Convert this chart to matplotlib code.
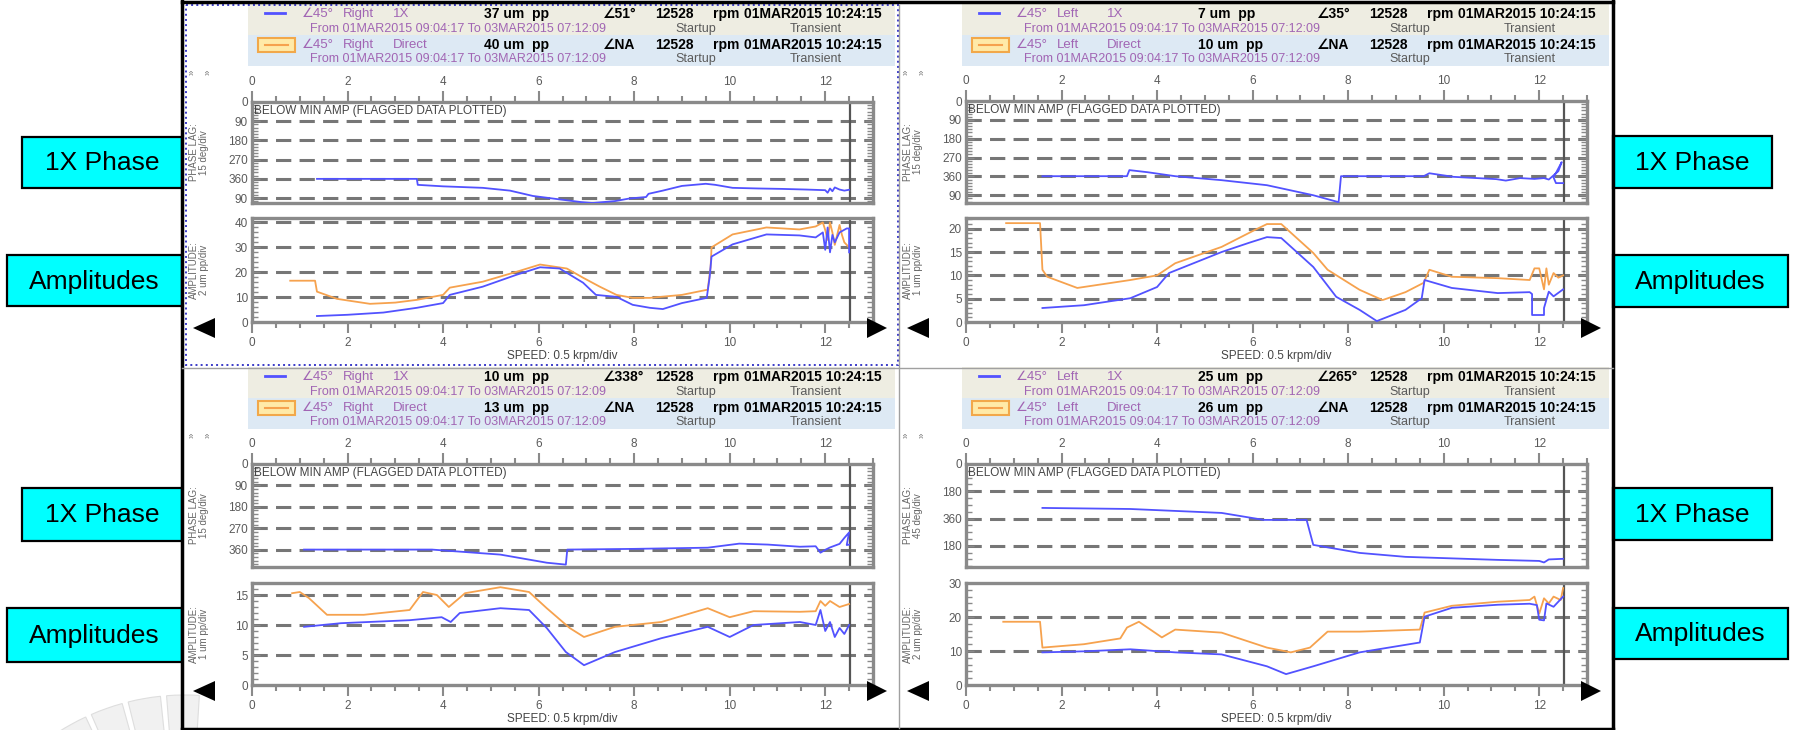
import matplotlib
matplotlib.use("Agg")
import matplotlib.pyplot as plt
from matplotlib.patches import Rectangle, Polygon, Wedge
from matplotlib.ticker import MultipleLocator

plt.rcParams['font.family'] = ['Liberation Sans', 'DejaVu Sans']

W, H = 1795, 730

# ---- data (speed in krpm) ----
# top left: Right probe
tl_ph_rpm = [1.36, 3.45, 3.47, 4.0, 4.83, 5.4, 5.88, 6.4, 6.9, 7.13, 7.6, 7.9, 8.25, 8.3,
             8.6, 9.0, 9.5, 9.7, 10.06, 10.6, 11.1, 11.6, 12.0, 12.05, 12.1, 12.15, 12.2,
             12.3, 12.4, 12.5]
tl_ph_deg = [360, 360, 388, 395, 402, 415, 440, 455, 469, 473, 464, 452, 445, 430,
             415, 393, 383, 388, 402, 405, 407, 410, 413, 425, 405, 418, 400,
             410, 415, 411]
tl_dir_rpm = [0.8, 1.32, 1.36, 1.78, 2.47, 3.0, 3.45, 4.0, 4.14, 4.83, 5.54, 6.03, 6.59,
              6.93, 7.28, 7.63, 7.97, 8.33, 9.0, 9.54, 9.6, 9.62, 10.06, 10.77, 11.46,
              11.8, 11.95, 12.0, 12.05, 12.1, 12.15, 12.2, 12.3, 12.35, 12.4, 12.5]
tl_dir_amp = [16.6, 16.6, 12.2, 9.3, 7.3, 7.8, 8.9, 10.9, 13.8, 16.2, 20.2, 23.1, 21.5,
              17.8, 14.2, 10.9, 9.7, 9.7, 10.9, 13.0, 22.0, 30.0, 35.2, 38.0, 37.2,
              38.4, 40.0, 37.0, 33.0, 40.0, 36.0, 31.0, 39.0, 35.0, 32.0, 30.0]
tl_1x_rpm = [1.36, 2.0, 2.75, 3.45, 4.0, 4.14, 4.83, 5.54, 6.03, 6.44, 6.93, 7.2, 7.63,
             7.97, 8.33, 8.6, 9.0, 9.52, 9.58, 9.62, 10.06, 10.77, 11.46, 11.8, 11.95,
             12.0, 12.05, 12.1, 12.15, 12.2, 12.3, 12.45, 12.5, 12.5]
tl_1x_amp = [2.4, 2.9, 3.8, 5.7, 7.6, 10.9, 14.2, 19.0, 22.0, 21.5, 15.8, 10.9, 10.1,
             6.9, 5.7, 5.2, 7.6, 9.7, 18.0, 26.3, 31.2, 35.2, 34.8, 34.0, 36.0,
             29.0, 38.0, 28.0, 35.0, 32.0, 36.0, 37.6, 37.6, 28.0]

# top right: Left probe
tr_ph_rpm = [1.6, 3.37, 3.42, 3.8, 4.38, 5.35, 6.3, 7.27, 7.8, 7.85, 8.5, 9.58, 9.7, 10.2,
             11.1, 11.3, 11.6, 11.9, 12.1, 12.2, 12.3, 12.4, 12.47, 12.3, 12.35, 12.5]
tr_ph_deg = [359, 359, 330, 340, 359, 378, 402, 450, 483, 359, 359, 359, 345, 362,
             373, 380, 368, 372, 368, 375, 355, 335, 292, 365, 392, 392]
tr_dir_rpm = [0.84, 1.55, 1.6, 1.7, 2.33, 3.44, 4.0, 4.38, 5.35, 6.04, 6.3, 6.6, 7.27,
              7.57, 8.24, 8.72, 9.2, 9.58, 9.7, 10.17, 11.13, 11.8, 11.9, 12.0, 12.1,
              12.15, 12.2, 12.3, 12.4, 12.5]
tr_dir_amp = [21.2, 21.2, 11.2, 9.7, 7.3, 9.0, 10.0, 12.6, 16.1, 19.7, 21.0, 21.0, 14.8,
              11.2, 6.9, 4.7, 6.4, 8.4, 11.2, 9.7, 9.4, 9.0, 11.5, 11.5, 7.0,
              11.5, 8.0, 10.5, 9.5, 10.0]
tr_1x_rpm = [1.6, 2.47, 3.44, 4.0, 4.25, 5.35, 5.93, 6.3, 6.6, 7.27, 7.75, 8.24, 8.6, 9.2,
             9.54, 9.6, 10.17, 11.13, 11.8, 11.85, 11.85, 12.1, 12.1, 12.2, 12.3, 12.5]
tr_1x_amp = [3.0, 3.6, 5.1, 7.5, 10.5, 15.0, 17.0, 18.2, 18.0, 11.8, 5.4, 2.6, 0.2, 2.6,
             5.1, 9.0, 7.3, 6.2, 6.4, 6.0, 1.5, 1.5, 3.0, 6.5, 5.5, 7.0]

# bottom left: Right probe
bl_ph_rpm = [1.09, 3.77, 5.2, 6.17, 6.57, 6.6, 8.0, 9.54, 10.2, 10.8, 11.47, 11.8, 11.9,
             12.0, 12.1, 12.3, 12.4, 12.5, 12.45, 12.5]
bl_ph_deg = [359, 359, 380, 414, 422, 359, 356, 351, 334, 338, 347, 345, 372,
             360, 350, 335, 310, 287, 340, 338]
bl_dir_rpm = [0.84, 1.0, 1.19, 1.57, 2.34, 3.3, 3.58, 3.87, 4.12, 4.46, 5.2, 5.8, 6.17,
              6.65, 6.95, 7.6, 8.57, 9.54, 10.0, 10.5, 11.47, 11.8, 11.9, 12.0, 12.1,
              12.3, 12.5]
bl_dir_amp = [15.3, 15.5, 14.5, 11.7, 11.7, 12.5, 15.5, 15.0, 13.0, 15.3, 16.3, 15.5, 12.8,
              9.5, 8.0, 9.7, 10.5, 12.8, 11.3, 12.3, 12.2, 12.3, 14.0, 13.2, 14.0,
              13.0, 13.5]
bl_1x_rpm = [1.09, 1.86, 3.3, 3.97, 4.16, 4.35, 5.2, 5.8, 6.17, 6.57, 6.95, 7.6, 8.57,
             9.54, 10.0, 10.5, 11.47, 11.8, 11.9, 12.0, 12.1, 12.2, 12.3, 12.4, 12.5]
bl_1x_amp = [9.7, 10.3, 10.8, 11.3, 10.5, 12.0, 12.8, 12.5, 9.5, 5.5, 3.3, 5.5, 7.8,
             9.7, 8.0, 10.0, 10.5, 10.0, 12.5, 9.0, 10.5, 8.0, 9.5, 8.5, 10.0]

# bottom right: Left probe
br_ph_rpm = [1.6, 3.44, 5.35, 6.23, 7.13, 7.27, 8.24, 9.2, 11.13, 12.0, 12.1, 12.2, 12.5]
br_ph_deg = [290, 297, 323, 369, 369, 534, 587, 613, 633, 640, 650, 630, 626]
br_dir_rpm = [0.78, 1.55, 1.6, 2.47, 3.23, 3.37, 3.62, 4.1, 4.38, 5.35, 6.3, 6.8, 7.2,
              7.57, 8.24, 9.5, 9.6, 10.17, 11.13, 11.8, 11.9, 12.0, 12.1, 12.2, 12.3,
              12.45, 12.5]
br_dir_amp = [18.6, 18.6, 11.0, 12.0, 13.7, 16.9, 18.6, 14.0, 16.3, 15.4, 11.0, 9.6, 11.0,
              15.7, 15.7, 16.3, 21.3, 23.3, 24.5, 25.0, 26.0, 21.0, 25.5, 24.0, 26.0,
              25.0, 28.5]
br_1x_rpm = [1.6, 2.47, 3.44, 4.38, 5.35, 6.3, 6.7, 7.27, 8.24, 9.5, 9.6, 10.17, 11.13,
             11.8, 11.95, 12.0, 12.1, 12.15, 12.3, 12.5]
br_1x_amp = [9.6, 9.9, 10.5, 9.6, 9.0, 5.5, 3.2, 5.5, 9.6, 12.5, 20.1, 22.7, 23.6,
             23.9, 23.5, 19.2, 19.0, 24.0, 23.0, 26.0]

sides = ['Right', 'Left', 'Right', 'Left']
amp_1x = ['37', '7', '10', '25']
amp_dir = ['40', '10', '13', '26']
ang_1x = ['51', '35', '338', '265']
phase_div = ['15', '15', '15', '45']
amp_div = ['2', '1', '1', '2']
phase_ticks = [[0, 90, 180, 270, 360, 450], [0, 90, 180, 270, 360, 450],
               [0, 90, 180, 270, 360], [0, 180, 360, 540]]
phase_ticklabels = [['0', '90', '180', '270', '360', '90'],
                    ['0', '90', '180', '270', '360', '90'],
                    ['0', '90', '180', '270', '360'],
                    ['0', '180', '360', '180']]
amp_ticks = [[0, 10, 20, 30, 40], [0, 5, 10, 15, 20], [0, 5, 10, 15], [0, 10, 20, 30]]
speed_ticks = [0, 2, 4, 6, 8, 10, 12]
cursor_krpm = 12.528

BLUE = '#5252ff'
ORANGE = '#f6a24e'
PURPLE = '#a165b4'
GRIDC = '#767676'
SPINE = '#8a8a8a'
TXT = '#5a5a5a'

panels = [
    dict(L=252, dy=0, ph=(102, 203), am=(218, 322), plim=473, alim=41.8, agrid=[10, 20, 30, 40],
         pgrid=[90, 180, 270, 360, 450], ph_x=tl_ph_rpm, ph_y=tl_ph_deg,
         d_x=tl_dir_rpm, d_y=tl_dir_amp, b_x=tl_1x_rpm, b_y=tl_1x_amp),
    dict(L=966, dy=0, ph=(101, 203), am=(218, 322), plim=487, alim=22.3, agrid=[5, 10, 15, 20],
         pgrid=[90, 180, 270, 360, 450], ph_x=tr_ph_rpm, ph_y=tr_ph_deg,
         d_x=tr_dir_rpm, d_y=tr_dir_amp, b_x=tr_1x_rpm, b_y=tr_1x_amp),
    dict(L=252, dy=363, ph=(464, 567), am=(583, 685), plim=432, alim=17.0, agrid=[5, 10, 15],
         pgrid=[90, 180, 270, 360], ph_x=bl_ph_rpm, ph_y=bl_ph_deg,
         d_x=bl_dir_rpm, d_y=bl_dir_amp, b_x=bl_1x_rpm, b_y=bl_1x_amp),
    dict(L=966, dy=363, ph=(464, 567), am=(583, 685), plim=680, alim=30.0, agrid=[10, 20],
         pgrid=[180, 360, 540], ph_x=br_ph_rpm, ph_y=br_ph_deg,
         d_x=br_dir_rpm, d_y=br_dir_amp, b_x=br_1x_rpm, b_y=br_1x_amp),
]

fig = plt.figure(figsize=(W / 100, H / 100), dpi=100)
fig.patch.set_facecolor('white')

bg = fig.add_axes([0, 0, 1, 1], zorder=0)
bg.set_xlim(0, W)
bg.set_ylim(H, 0)
bg.axis('off')

fg = fig.add_axes([0, 0, 1, 1], zorder=5)
fg.set_xlim(0, W)
fg.set_ylim(H, 0)
fg.axis('off')
fg.patch.set_alpha(0)


def px_axes(x0, y0, x1, y1):
    a = fig.add_axes([x0 / W, 1 - y1 / H, (x1 - x0) / W, (y1 - y0) / H], zorder=2)
    a.patch.set_alpha(0)
    for s in a.spines.values():
        s.set_color(SPINE)
        s.set_linewidth(2.4)
    return a


def style_y(a, minor):
    a.yaxis.set_minor_locator(MultipleLocator(minor))
    a.tick_params(axis='y', which='both', direction='in', left=True, right=True,
                  color=SPINE, width=1.0, labelcolor=TXT, labelsize=8.5, pad=3)
    a.tick_params(axis='y', which='major', length=6)
    a.tick_params(axis='y', which='minor', length=4)


for i, p in enumerate(panels):
    L = p['L']
    R = L + 621
    dy = p['dy']

    # header rows
    bg.add_patch(Rectangle((L - 4, dy + 4), 647, 31, fc='#eeede2', ec='none'))
    bg.add_patch(Rectangle((L - 4, dy + 35), 647, 31, fc='#dde9f4', ec='none'))
    fg.plot([L + 13, L + 33], [dy + 13, dy + 13], color=BLUE, lw=2)
    fg.add_patch(Rectangle((L + 6, dy + 38), 37, 14, fc='#ffeaa8', ec='#f2a84a', lw=1.5))
    fg.plot([L + 13, L + 36], [dy + 45, dy + 45], color=ORANGE, lw=1.5)
    for row, (kind, amp, ang) in enumerate([('1X', amp_1x[i], ang_1x[i] + '°'),
                                            ('Direct', amp_dir[i], 'NA')]):
        y1 = dy + 14 + row * 31
        y2 = dy + 29 + row * 30
        fg.text(L + 50, y1, '∠45°', color=PURPLE, fontsize=9.5, va='center')
        fg.text(L + 91, y1, sides[i], color=PURPLE, fontsize=9.5, va='center')
        fg.text(L + 141, y1, kind, color=PURPLE, fontsize=9.5, va='center')
        fg.text(L + 232, y1, amp + ' um  pp', color='black', fontsize=10, fontweight='bold',
                va='center')
        fg.text(L + 351, y1, '∠' + ang, color='black', fontsize=10, fontweight='bold',
                va='center')
        fg.text(L + 403, y1, '12528', color='black', fontsize=10, fontweight='bold', va='center')
        fg.text(L + 461, y1, 'rpm', color='black', fontsize=10, fontweight='bold', va='center')
        fg.text(L + 492, y1, '01MAR2015 10:24:15', color='black', fontsize=10,
                fontweight='bold', va='center')
        fg.text(L + 58, y2, 'From 01MAR2015 09:04:17 To 03MAR2015 07:12:09', color=PURPLE,
                fontsize=9, va='center')
        fg.text(L + 423, y2, 'Startup', color=TXT, fontsize=9, va='center')
        fg.text(L + 538, y2, 'Transient', color=TXT, fontsize=9, va='center')

    fg.text(L - 60, dy + 72, '»', rotation=90, fontsize=7, color='#777', ha='center', va='center')
    fg.text(L - 44, dy + 72, '»', rotation=90, fontsize=7, color='#777', ha='center', va='center')

    # phase plot
    pt, pb = p['ph']
    ax = px_axes(L, pt, R, pb)
    ax.set_xlim(0, 13)
    ax.set_ylim(p['plim'], 0)
    for g in p['pgrid']:
        ax.axhline(g, color=GRIDC, lw=2.2, dashes=(5, 2.7), zorder=1)
    ax.axvline(cursor_krpm, color='#555555', lw=1.6, zorder=1)
    ax.plot(p['ph_x'], p['ph_y'], color=BLUE, lw=1.3, zorder=3)
    ax.xaxis.set_ticks_position('top')
    ax.set_xticks(speed_ticks)
    ax.xaxis.set_minor_locator(MultipleLocator(0.5))
    ax.tick_params(axis='x', which='both', direction='out', color=SPINE, width=1.5,
                   labelcolor=TXT, labelsize=8.5, pad=2)
    ax.tick_params(axis='x', which='major', length=8)
    ax.tick_params(axis='x', which='minor', length=4)
    ax.set_yticks(phase_ticks[i])
    ax.set_yticklabels(phase_ticklabels[i])
    style_y(ax, int(phase_div[i]))
    ax.text(0.004, 1 - 9 / (pb - pt), 'BELOW MIN AMP (FLAGGED DATA PLOTTED)', transform=ax.transAxes,
            fontsize=8.5, color='#444444', va='center')

    # amplitude plot
    at, ab = p['am']
    ax2 = px_axes(L, at, R, ab)
    ax2.set_xlim(0, 13)
    ax2.set_ylim(0, p['alim'])
    for g in p['agrid']:
        ax2.axhline(g, color=GRIDC, lw=2.2, dashes=(5, 2.7), zorder=1)
    ax2.axvline(cursor_krpm, color='#555555', lw=1.6, zorder=1)
    ax2.plot(p['d_x'], p['d_y'], color=ORANGE, lw=1.3, zorder=3)
    ax2.plot(p['b_x'], p['b_y'], color=BLUE, lw=1.3, zorder=4)
    ax2.set_xticks(speed_ticks)
    ax2.xaxis.set_minor_locator(MultipleLocator(0.5))
    ax2.tick_params(axis='x', which='both', direction='out', color=SPINE, width=1.5,
                    labelcolor=TXT, labelsize=8.5, pad=3)
    ax2.tick_params(axis='x', which='major', length=8)
    ax2.tick_params(axis='x', which='minor', length=4)
    ax2.set_yticks(amp_ticks[i])
    style_y(ax2, int(amp_div[i]))

    # axis captions
    fg.text(L - 53, (pt + pb) / 2, 'PHASE LAG:\n' + phase_div[i] + ' deg/div', rotation=90,
            fontsize=7, color='#666', ha='center', va='center', linespacing=1.1)
    fg.text(L - 53, (at + ab) / 2, 'AMPLITUDE:\n' + amp_div[i] + ' um pp/div', rotation=90,
            fontsize=7, color='#666', ha='center', va='center', linespacing=1.1)
    fg.text((L + R) / 2, ab + 34, 'SPEED: 0.5 krpm/div', fontsize=8.5, color='#444',
            ha='center', va='center')

    # scroll arrows
    fg.add_patch(Polygon([(L - 37, ab - 4), (L - 37, ab + 16), (L - 59, ab + 6)], fc='black'))
    fg.add_patch(Polygon([(R - 6, ab - 4), (R - 6, ab + 16), (R + 14, ab + 6)], fc='black'))

# frame and dividers
fg.plot([182, 1613], [1.5, 1.5], color='black', lw=2.5)
fg.plot([182, 182], [0, 730], color='black', lw=2.5)
fg.plot([1613, 1613], [0, 730], color='black', lw=2.5)
fg.plot([182, 1613], [728.5, 728.5], color='black', lw=2.5)
fg.plot([899, 899], [5, 728], color='#a0a0a0', lw=1.0)
fg.plot([182, 1613], [367.5, 367.5], color='#a0a0a0', lw=1.0)
bg.add_patch(Rectangle((184, 3), 64, 60, fc='white', ec='none'))
fg.add_patch(Rectangle((186, 5), 712, 360, fc='none', ec='#3a3ac8', lw=1.4, ls=':'))

# faint logo bottom left
for k in range(6):
    bg.add_patch(Wedge((185, 930), 235, 218 + k * 9.5, 226 + k * 9.5, width=38,
                       fc='#f1f1f1', ec='#dedede', lw=0.8))

# cyan labels
boxes = [(22, 137, 182, 188, '1X Phase'), (7, 255, 182, 306, 'Amplitudes'),
         (22, 488, 182, 541, '1X Phase'), (7, 608, 182, 662, 'Amplitudes'),
         (1613, 136, 1772, 188, '1X Phase'), (1613, 255, 1788, 307, 'Amplitudes'),
         (1613, 488, 1772, 540, '1X Phase'), (1613, 608, 1788, 659, 'Amplitudes')]
for x0, y0, x1, y1, lab in boxes:
    fg.add_patch(Rectangle((x0, y0), x1 - x0, y1 - y0, fc='#00ffff', ec='black', lw=1.6))
    fg.text((x0 + x1) / 2, (y0 + y1) / 2 + 1, lab, fontsize=19, color='black',
            ha='center', va='center')

fig.savefig('out.png', dpi=100)
